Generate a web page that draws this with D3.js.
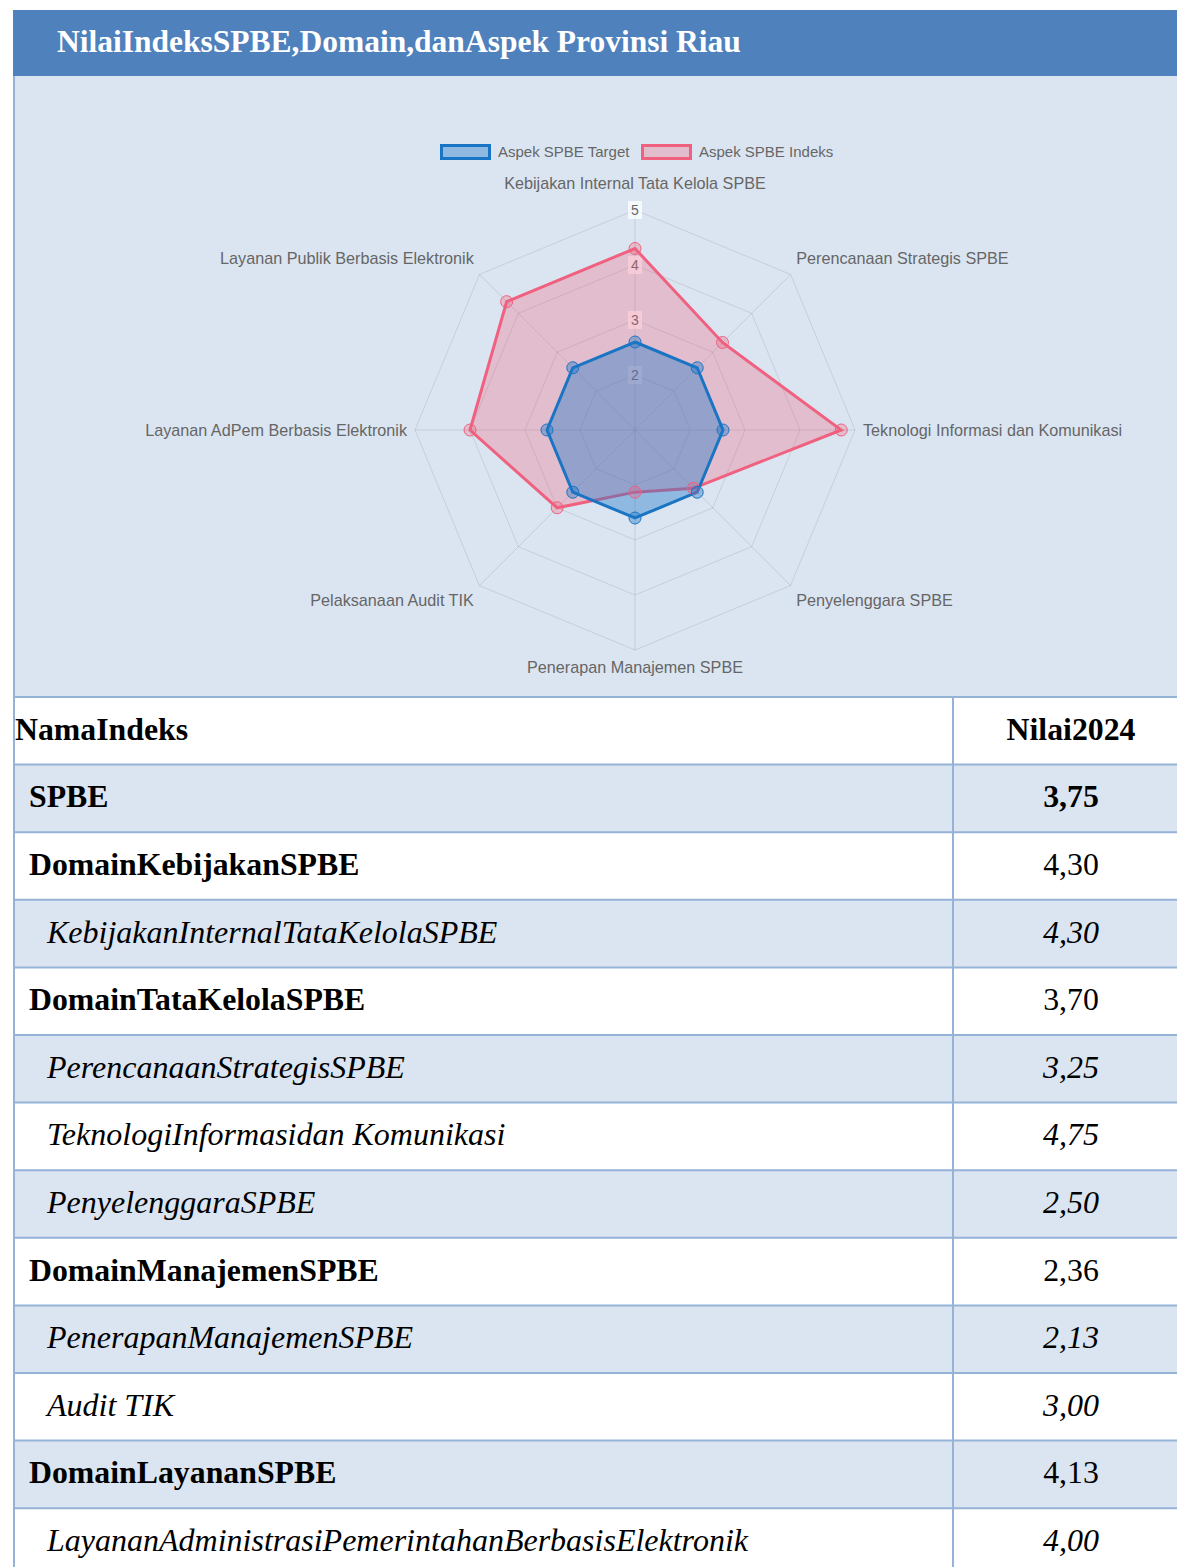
<!DOCTYPE html>
<html>
<head>
<meta charset="utf-8">
<script src="https://cdn.jsdelivr.net/npm/d3@7"></script>
<style>
  html, body { margin: 0; padding: 0; background: #ffffff; }
  svg { display: block; }
</style>
</head>
<body>
<script>
// ---------- DATA ----------
const chartTitle = "NilaiIndeksSPBE,Domain,danAspek Provinsi Riau";
const seriesNames = ["Aspek SPBE Target", "Aspek SPBE Indeks"];
const aspects = [
  "Kebijakan Internal Tata Kelola SPBE",
  "Perencanaan Strategis SPBE",
  "Teknologi Informasi dan Komunikasi",
  "Penyelenggara SPBE",
  "Penerapan Manajemen SPBE",
  "Pelaksanaan Audit TIK",
  "Layanan AdPem Berbasis Elektronik",
  "Layanan Publik Berbasis Elektronik"
];
const targetValues = [2.6, 2.6, 2.6, 2.6, 2.6, 2.6, 2.6, 2.6];
const indeksValues = [4.30, 3.25, 4.75, 2.50, 2.13, 3.00, 4.00, 4.30];
const radialTicks = [2, 3, 4, 5];
const radialDomain = [1, 5];

const tableHeader = ["NamaIndeks", "Nilai2024"];
const tableNames = [
  "SPBE",
  "DomainKebijakanSPBE",
  "KebijakanInternalTataKelolaSPBE",
  "DomainTataKelolaSPBE",
  "PerencanaanStrategisSPBE",
  "TeknologiInformasidan Komunikasi",
  "PenyelenggaraSPBE",
  "DomainManajemenSPBE",
  "PenerapanManajemenSPBE",
  "Audit TIK",
  "DomainLayananSPBE",
  "LayananAdministrasiPemerintahanBerbasisElektronik"
];
const tableValues = ["3,75", "4,30", "4,30", "3,70", "3,25", "4,75", "2,50", "2,36", "2,13", "3,00", "4,13", "4,00"];
const tableLevels = ["total", "domain", "aspect", "domain", "aspect", "aspect", "aspect", "domain", "aspect", "aspect", "domain", "aspect"];

// ---------- LAYOUT ----------
const W = 1177, H = 1567;
const svg = d3.select("body").append("svg").attr("width", W).attr("height", H);

const panelBg = "#dbe5f1";
const borderCol = "#95b3d7";
const sans = "'Liberation Sans', Arial, sans-serif";
const serif = "'Liberation Serif', 'Times New Roman', serif";

// title bar
svg.append("rect").attr("x", 13).attr("y", 10).attr("width", W - 13).attr("height", 66).attr("fill", "#4f81bd");
svg.append("text").attr("x", 57).attr("y", 52)
  .attr("font-family", serif)
  .attr("font-weight", "bold").attr("font-size", 31.5).attr("fill", "#ffffff")
  .text(chartTitle);

// chart panel
svg.append("rect").attr("x", 13).attr("y", 76).attr("width", W - 13).attr("height", 621).attr("fill", panelBg);

// ---------- RADAR ----------
const cx = 635, cy = 430, R = 220;
const rScale = d3.scaleLinear().domain(radialDomain).range([0, R]);
const aScale = d3.scaleLinear().domain([0, aspects.length]).range([0, 2 * Math.PI]);
const g = svg.append("g").attr("transform", `translate(${cx},${cy})`);

const pt = (i, v) => {
  const a = aScale(i), r = rScale(v);
  return [r * Math.sin(a), -r * Math.cos(a)];
};

// grid rings
radialTicks.forEach(v => {
  g.append("path")
    .attr("d", d3.line()(aspects.map((_, i) => pt(i, v))) + "Z")
    .attr("fill", "none").attr("stroke", "rgba(0,0,0,0.1)").attr("stroke-width", 1);
});
// angle lines
aspects.forEach((_, i) => {
  const [x, y] = pt(i, radialDomain[1]);
  g.append("line").attr("x1", 0).attr("y1", 0).attr("x2", x).attr("y2", y)
    .attr("stroke", "rgba(0,0,0,0.1)").attr("stroke-width", 1);
});

// tick labels (with backdrop)
radialTicks.forEach(v => {
  const y = -rScale(v);
  g.append("rect").attr("x", -7).attr("y", y - 9).attr("width", 14).attr("height", 18)
    .attr("fill", "rgba(255,255,255,0.75)");
  g.append("text").attr("x", 0).attr("y", y).attr("dy", "0.35em")
    .attr("text-anchor", "middle").attr("font-family", sans)
    .attr("font-size", 14).attr("fill", "#666").text(v);
});

// point labels
aspects.forEach((name, i) => {
  const a = aScale(i);
  const lr = R + 8;
  const x = lr * Math.sin(a), y = -lr * Math.cos(a);
  const sx = Math.sin(a), sy = -Math.cos(a);
  let anchor = "middle";
  if (sx > 0.01) anchor = "start"; else if (sx < -0.01) anchor = "end";
  let dy = 0;
  if (sy < -0.9) dy = -19; else if (sy < -0.1) dy = -10; else if (sy > 0.1) dy = 9;
  g.append("text").attr("x", x).attr("y", y + dy).attr("dy", "0.35em")
    .attr("text-anchor", anchor)
    .attr("font-family", sans)
    .attr("font-size", 16.2).attr("fill", "#666").text(name);
});

const series = [
  { name: seriesNames[1], values: indeksValues, stroke: "#f0607f", fill: "rgba(240,96,127,0.3)" },
  { name: seriesNames[0], values: targetValues, stroke: "#1a74c4", fill: "rgba(30,120,200,0.4)" }
];
const radial = d3.lineRadial()
  .angle((d, i) => aScale(i))
  .radius(d => rScale(d))
  .curve(d3.curveLinearClosed);

series.forEach(s => {
  g.append("path").attr("d", radial(s.values))
    .attr("fill", s.fill).attr("stroke", s.stroke).attr("stroke-width", 3)
    .attr("stroke-linejoin", "miter");
});
series.forEach(s => {
  g.selectAll(null).data(s.values).enter().append("circle")
    .attr("cx", (d, i) => pt(i, d)[0]).attr("cy", (d, i) => pt(i, d)[1])
    .attr("r", 6).attr("fill", s.fill).attr("stroke", s.stroke).attr("stroke-width", 1);
});

// legend
const legend = [
  { name: seriesNames[0], stroke: "#1a74c4", fill: "rgba(30,120,200,0.4)", x: 440 },
  { name: seriesNames[1], stroke: "#f0607f", fill: "rgba(240,96,127,0.3)", x: 641 }
];
legend.forEach(l => {
  svg.append("rect").attr("x", l.x + 1.5).attr("y", 145.5).attr("width", 48).attr("height", 13)
    .attr("fill", l.fill).attr("stroke", l.stroke).attr("stroke-width", 3);
  svg.append("text").attr("x", l.x + 58).attr("y", 152).attr("dy", "0.35em")
    .attr("font-family", sans)
    .attr("font-size", 15).attr("fill", "#666").text(l.name);
});

// ---------- TABLE ----------
const tableTop = 697, rowH = 67.6, colX = 953, valCX = 1071;
const rows = [{ name: tableHeader[0], value: tableHeader[1], level: "header" }]
  .concat(tableNames.map((n, i) => ({ name: n, value: tableValues[i], level: tableLevels[i] })));
const yRow = d3.scaleLinear().domain([0, 1]).range([tableTop, tableTop + rowH]);

const tg = svg.append("g");
rows.forEach((r, i) => {
  const y0 = yRow(i);
  tg.append("rect").attr("x", 13).attr("y", y0).attr("width", W - 13).attr("height", rowH)
    .attr("fill", i % 2 === 1 ? panelBg : "#ffffff");
});
rows.forEach((r, i) => {
  const y0 = yRow(i);
  tg.append("line").attr("x1", 13).attr("x2", W).attr("y1", y0).attr("y2", y0)
    .attr("stroke", borderCol).attr("stroke-width", 2);
});
// vertical lines
tg.append("line").attr("x1", 14).attr("x2", 14).attr("y1", 76).attr("y2", H)
  .attr("stroke", borderCol).attr("stroke-width", 2);
tg.append("line").attr("x1", colX).attr("x2", colX).attr("y1", tableTop).attr("y2", H)
  .attr("stroke", borderCol).attr("stroke-width", 2);

rows.forEach((r, i) => {
  const yc = yRow(i) + rowH / 2 + 9;
  const isHeader = r.level === "header";
  const bold = r.level !== "aspect";
  const italic = r.level === "aspect";
  const fs = italic ? 32 : 31.8;
  const nx = isHeader ? 15 : (r.level === "aspect" ? 47 : 29);
  tg.append("text").attr("x", nx).attr("y", yc)
    .attr("font-family", serif)
    .attr("font-size", fs)
    .attr("font-weight", bold ? "bold" : "normal")
    .attr("font-style", italic ? "italic" : "normal")
    .attr("fill", "#000").text(r.name);
  tg.append("text").attr("x", valCX).attr("y", yc).attr("text-anchor", "middle")
    .attr("font-family", serif)
    .attr("font-size", fs)
    .attr("font-weight", (isHeader || r.level === "total") ? "bold" : "normal")
    .attr("font-style", italic ? "italic" : "normal")
    .attr("fill", "#000").text(r.value);
});
</script>
</body>
</html>
